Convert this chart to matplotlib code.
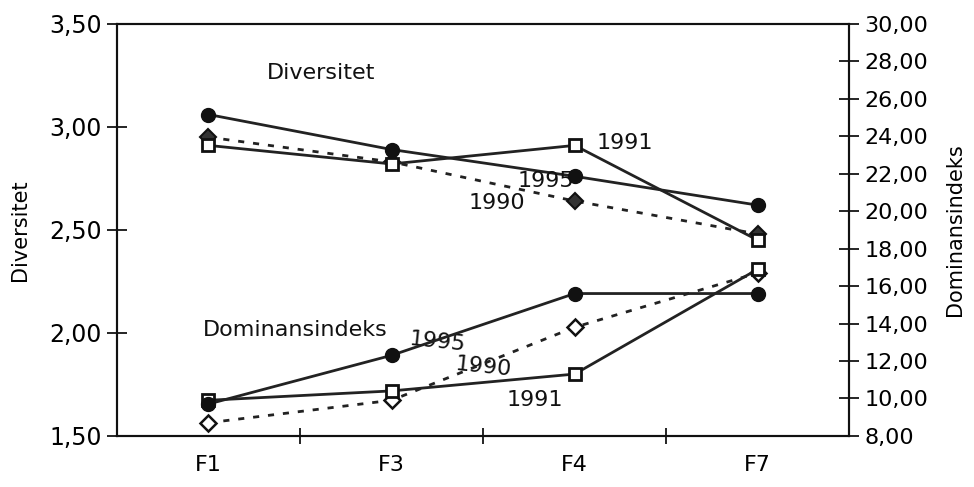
import matplotlib
matplotlib.use("Agg")
import matplotlib.pyplot as plt
from matplotlib.ticker import FuncFormatter, FixedLocator

categories = ["F1", "F3", "F4", "F7"]

div_1995 = [3.06, 2.89, 2.76, 2.62]
div_1991 = [2.91, 2.82, 2.91, 2.45]
div_1990 = [2.95, 2.83, 2.64, 2.48]

dom_1995 = [9.7, 12.3, 15.6, 15.6]
dom_1991 = [9.9, 10.4, 11.3, 16.9]
dom_1990 = [8.7, 9.9, 13.8, 16.7]

plt.rcParams['font.family'] = ['DejaVu Sans']

fig = plt.figure(figsize=(9.74, 4.87), dpi=100)
ax = fig.add_axes([0.120, 0.105, 0.752, 0.846])
ax2 = ax.twinx()

x = list(range(len(categories)))
lw = 2.0
ms_c = 10
ms_s = 9
ms_d = 8.5
dash = (0, (2.2, 3.2))

# Diversitet (left axis)
ax.plot(x, div_1990, color='#222222', lw=lw, linestyle=dash, marker='D', ms=ms_d,
        mfc='#333333', mec='#111111', mew=1.5, zorder=3)
ax.plot(x, div_1991, color='#222222', lw=lw, marker='s', ms=ms_s,
        mfc='white', mec='#111111', mew=2, zorder=4)
ax.plot(x, div_1995, color='#222222', lw=lw, marker='o', ms=ms_c,
        mfc='#111111', mec='#111111', zorder=5)

# Dominansindeks (right axis)
ax2.plot(x, dom_1990, color='#222222', lw=lw, linestyle=dash, marker='D', ms=ms_d,
         mfc='white', mec='#111111', mew=1.8, zorder=3)
ax2.plot(x, dom_1991, color='#222222', lw=lw, marker='s', ms=ms_s,
         mfc='white', mec='#111111', mew=2, zorder=4)
ax2.plot(x, dom_1995, color='#222222', lw=lw, marker='o', ms=ms_c,
         mfc='#111111', mec='#111111', zorder=5)

fmt = FuncFormatter(lambda v, p: f"{v:.2f}".replace('.', ','))

ax.set_xlim(-0.5, len(categories) - 0.5)
ax.set_ylim(1.5, 3.5)
ax.set_yticks([1.5, 2.0, 2.5, 3.0, 3.5])
ax.yaxis.set_major_formatter(fmt)
ax2.set_ylim(8, 30)
ax2.set_yticks(list(range(8, 31, 2)))
ax2.yaxis.set_major_formatter(fmt)

ax.set_xticks(x)
ax.set_xticklabels(categories)
ax.xaxis.set_minor_locator(FixedLocator([0.5, 1.5, 2.5]))
ax.tick_params(axis='x', which='major', length=0, pad=14, labelsize=16)
ax.tick_params(axis='x', which='minor', direction='inout', length=12, width=1.2)
ax.tick_params(axis='y', direction='inout', length=14, width=1.2, labelsize=17, pad=4)
ax2.tick_params(axis='y', direction='inout', length=14, width=1.2, labelsize=16, pad=4)

for a in (ax, ax2):
    for s in a.spines.values():
        s.set_linewidth(1.5)
        s.set_color('#111111')

ax.set_ylabel("Diversitet", fontsize=15, labelpad=14)
ax2.set_ylabel("Dominansindeks", fontsize=15, labelpad=12)

tk = dict(fontsize=16, color='#111111', va='center', ha='left')
ax.text(0.32, 3.26, "Diversitet", **tk)
ax.text(-0.03, 2.015, "Dominansindeks", **tk)
ax.text(2.12, 2.92, "1991", **tk)
ax.text(1.69, 2.735, "1995", **tk, zorder=6)
ax.text(1.42, 2.63, "1990", **tk)
ax.text(1.09, 1.955, "1995", rotation=-6, **tk)
ax.text(1.34, 1.835, "1990", rotation=-6, **tk)
ax.text(1.63, 1.675, "1991", **tk)

fig.savefig("out.png", dpi=100)
